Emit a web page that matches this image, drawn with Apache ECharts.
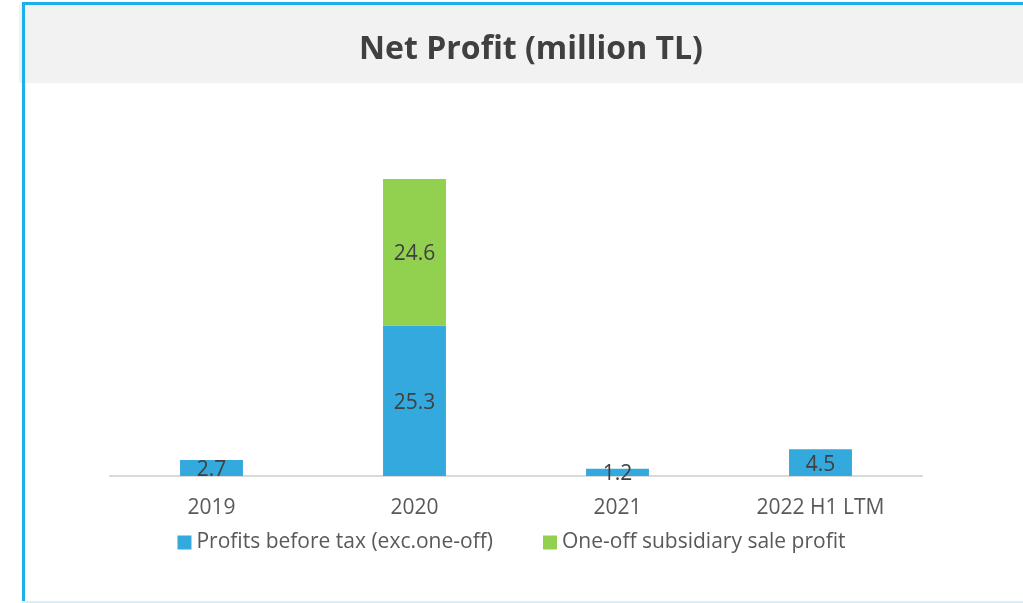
<!DOCTYPE html>
<html>
<head>
<meta charset="utf-8">
<title>Net Profit (million TL)</title>
<script src="https://cdn.jsdelivr.net/npm/echarts@6/dist/echarts.min.js"></script>
<style>
  html, body { margin: 0; padding: 0; background: #fff; }
  #main { width: 1023px; height: 603px; }
</style>
</head>
<body>
<div id="main"></div>
<script>
const categories = ['2019', '2020', '2021', '2022 H1 LTM']
const profitBeforeTax = [2.7, 25.3, 1.2, 4.5]
const oneOffSale = [null, 24.6, null, null]
const seriesNames = ['Profits before tax (exc.one-off)', 'One-off subsidiary sale profit']

const chart = echarts.init(document.getElementById('main'))

const labelStyle = {
  show: true,
  position: 'inside',
  offset: [0, 2],
  fontFamily: 'Open Sans',
  fontSize: 21,
  color: '#404040'
}

const option = {
  animation: false,
  graphic: [
    // grey header band
    { type: 'rect', shape: { x: 19, y: 5, width: 1004, height: 78 }, style: { fill: '#f2f2f2' }, z: -10 },
    // blue frame
    { type: 'rect', shape: { x: 22, y: 2, width: 1001, height: 3 }, style: { fill: '#1cb0e8' }, z: 10 },
    { type: 'rect', shape: { x: 22, y: 2, width: 3, height: 601 }, style: { fill: '#1cb0e8' }, z: 10 },
    { type: 'rect', shape: { x: 22, y: 601, width: 1001, height: 2 }, style: { fill: '#d6f0fb' }, z: 10 }
  ],
  title: {
    text: 'Net Profit (million TL)',
    left: 526,
    top: 29,
    textAlign: 'center',
    textStyle: {
      fontFamily: 'Open Sans',
      fontWeight: 'bold',
      fontSize: 32,
      color: '#404040'
    }
  },
  legend: {
    data: seriesNames,
    left: 'center',
    top: 527,
    itemWidth: 14,
    itemHeight: 14,
    itemGap: 50,
    icon: 'rect',
    textStyle: {
      fontFamily: 'Open Sans',
      fontSize: 21,
      color: '#595959'
    }
  },
  grid: {
    left: 110,
    right: 101,
    top: 178.5,
    bottom: 127
  },
  xAxis: {
    type: 'category',
    data: categories,
    axisLine: { lineStyle: { color: '#d9d9d9', width: 2 } },
    axisTick: { show: false },
    axisLabel: {
      margin: 22,
      fontFamily: 'Open Sans',
      fontSize: 21,
      color: '#595959'
    }
  },
  yAxis: {
    type: 'value',
    min: 0,
    max: 50,
    show: false,
    splitLine: { show: false }
  },
  series: [
    {
      name: seriesNames[0],
      type: 'bar',
      stack: 'total',
      barWidth: '31%',
      data: profitBeforeTax,
      itemStyle: { color: '#33a9de' },
      label: labelStyle
    },
    {
      name: seriesNames[1],
      type: 'bar',
      stack: 'total',
      barWidth: '31%',
      data: oneOffSale,
      itemStyle: { color: '#92d050' },
      label: labelStyle
    }
  ]
}

chart.setOption(option)
</script>
</body>
</html>
